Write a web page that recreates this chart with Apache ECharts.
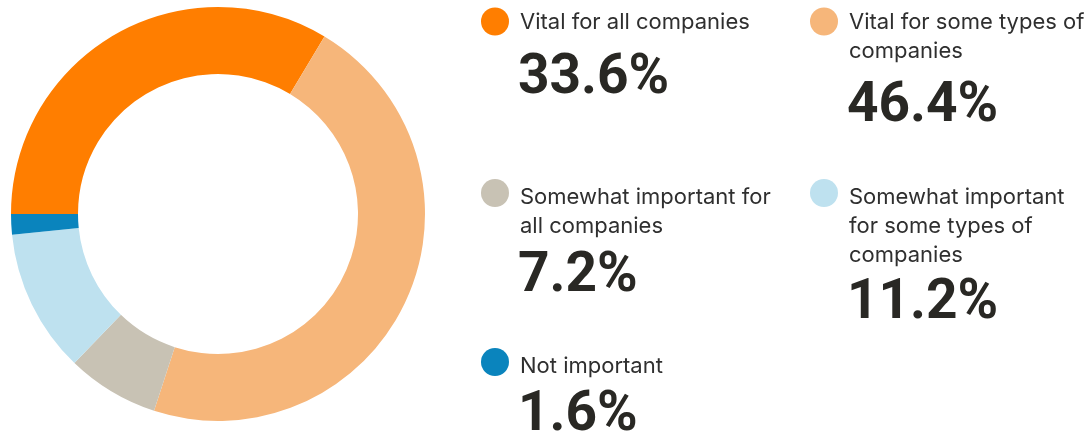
<!DOCTYPE html>
<html>
<head>
<meta charset="utf-8">
<script src="https://cdn.jsdelivr.net/npm/echarts@6/dist/echarts.min.js"></script>
<style>
  html, body { margin: 0; padding: 0; background: #ffffff; }
  #chart { width: 1091px; height: 435px; }
</style>
</head>
<body>
<div id="chart"></div>
<script>
// Survey answer categories (line breaks follow the printed wrapping)
const categories = [
  'Vital for all companies',
  'Vital for some types of\ncompanies',
  'Somewhat important for\nall companies',
  'Somewhat important\nfor some types of\ncompanies',
  'Not important'
];
// Share of respondents, percent
const shares = [33.6, 46.4, 7.2, 11.2, 1.6];
const colors = ['#FF7E00', '#F6B67A', '#C8C2B4', '#BEE1EF', '#0A84BD'];

// Legend block placement: marker centre, text left edge, first label baseline, value baseline
const blocks = [
  { cx: 495, cy: 21.5, tx: 520, labelBase: 28,  valueBase: 95 },
  { cx: 824, cy: 21.5, tx: 849, labelBase: 28,  valueBase: 123 },
  { cx: 495, cy: 193,  tx: 520, labelBase: 203, valueBase: 293 },
  { cx: 824, cy: 193,  tx: 849, labelBase: 203, valueBase: 320 },
  { cx: 495, cy: 362,  tx: 520, labelBase: 372, valueBase: 432 }
];

const LABEL_SIZE = 22, LABEL_LH = 29;
const VALUE_SIZE = 55;

const graphics = [];
categories.forEach((name, i) => {
  const b = blocks[i];
  graphics.push({
    type: 'circle',
    shape: { cx: b.cx, cy: b.cy, r: 14 },
    style: { fill: colors[i] },
    silent: true
  });
  graphics.push({
    type: 'text',
    x: b.tx,
    y: b.labelBase - LABEL_LH / 2 - LABEL_SIZE * 0.24,
    style: {
      text: name,
      font: LABEL_SIZE + 'px Inter',
      lineHeight: LABEL_LH,
      fill: '#2f2f2f',
      textVerticalAlign: 'top'
    },
    silent: true
  });
  graphics.push({
    type: 'text',
    x: b.tx - 2,
    y: b.valueBase - VALUE_SIZE * 0.29,
    style: {
      text: shares[i].toFixed(1) + '%',
      font: 'bold ' + VALUE_SIZE + 'px Roboto',
      fill: '#292824',
      textVerticalAlign: 'middle'
    },
    silent: true
  });
});

const chart = echarts.init(document.getElementById('chart'), null, { renderer: 'canvas' });
chart.setOption({
  animation: false,
  color: colors,
  series: [{
    type: 'pie',
    center: [218, 214],
    radius: [140, 207],
    startAngle: 180,
    clockwise: true,
    label: { show: false },
    labelLine: { show: false },
    emphasis: { disabled: true },
    itemStyle: { borderWidth: 0 },
    data: categories.map((name, i) => ({ name: name, value: shares[i] }))
  }],
  graphic: graphics
});
</script>
</body>
</html>
